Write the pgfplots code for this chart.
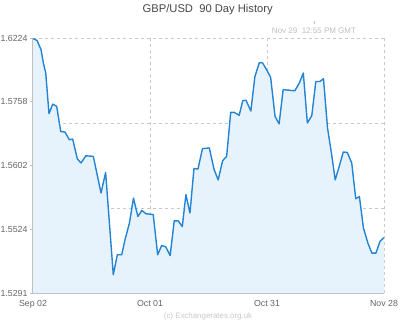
\documentclass[border=0pt]{standalone}
\usepackage{fontspec}
\setmainfont{Liberation Sans}
\usepackage{pgfplots}
\pgfplotsset{compat=1.18}
\usetikzlibrary{calc}
\definecolor{linec}{RGB}{36,132,212}
\definecolor{fillc}{RGB}{230,242,252}
\definecolor{gridc}{RGB}{200,200,200}
\definecolor{axisc}{RGB}{190,190,190}
\definecolor{labc}{RGB}{100,100,100}
\definecolor{titc}{RGB}{70,70,70}
\definecolor{datec}{RGB}{190,190,190}
\definecolor{copc}{RGB}{200,200,200}
\begin{document}
\begin{tikzpicture}[x=1pt,y=1pt]
\begin{axis}[
  name=ax,
  at={(0,0)}, anchor=south west,
  scale only axis, width=351pt, height=255pt,
  xmin=0, xmax=87, ymin=1.5291, ymax=1.6224,
  axis x line*=bottom, axis y line*=left,
  axis line style={axisc, line width=1.3pt, -},
  xtick={0,29,58,87},
  xticklabels={Sep 02,Oct 01,Oct 31,Nov 28},
  ytick={1.5291,1.552425,1.57575,1.599075,1.6224},
  yticklabels={1.5291,1.5524,1.5602,1.5758,1.6224},
  xmajorgrids,
  major grid style={gridc, dash pattern=on 3pt off 3pt, line width=0.8pt},
  extra y ticks={1.5602,1.5913,1.6224},
  extra y tick labels={},
  extra y tick style={grid=major, major tick length=0pt},
  extra x ticks={43.4},
  extra x tick labels={},
  extra x tick style={grid=none, major tick length=3pt, tick style={axisc, line width=1pt}},
  x tick style={draw=none},
  y tick style={axisc, line width=0.8pt},
  tick align=outside,
  major tick length=3pt,
  /pgf/number format/assume math mode=true,
  tick label style={font=\fontsize{8.8}{10}\selectfont, text=labc},
  xticklabel style={yshift=-1pt},
  yticklabel style={xshift=1pt},
]
\addplot[draw=none, fill=fillc] coordinates {
(0,1.6222)(1,1.6215)(2,1.6181)(2.55,1.6134)(3.15,1.6097)(3.97,1.5947)(4.88,1.5982)(5.87,1.5974)(6.87,1.5882)(7.93,1.5880)(9.0,1.5852)(9.84,1.5854)(10.98,1.5782)(11.9,1.5767)(13.1,1.5793)(14.95,1.5791)(16.86,1.5657)(18.0,1.5732)(19.9,1.5358)(20.9,1.5431)(22.0,1.5431)(22.8,1.5486)(23.9,1.5547)(24.9,1.5638)(26.0,1.5571)(27.0,1.5593)(28.0,1.5581)(29.8,1.5578)(30.9,1.5431)(31.9,1.5465)(32.9,1.5460)(34.0,1.5428)(35.0,1.5555)(36.0,1.5555)(37.0,1.5534)(37.9,1.5651)(38.9,1.5584)(39.9,1.5746)(40.9,1.5745)(42.0,1.5819)(43.7,1.5822)(44.9,1.5742)(45.9,1.5705)(47.0,1.5775)(48.0,1.5791)(49.0,1.5952)(49.9,1.5952)(51.1,1.5941)(52.0,1.5995)(52.8,1.5996)(54.0,1.5957)(55.0,1.6083)(56.1,1.6134)(56.9,1.6133)(57.9,1.6108)(58.9,1.6080)(60.0,1.5937)(61.0,1.5910)(62.0,1.6035)(64.1,1.6032)(64.9,1.6031)(66.0,1.6059)(67.0,1.6096)(68.0,1.5913)(69.1,1.5940)(70.1,1.6065)(71.1,1.6065)(72.0,1.6075)(73.0,1.5895)(74.0,1.5800)(74.9,1.5705)(75.9,1.5754)(76.9,1.5807)(77.9,1.5805)(79.0,1.5767)(80.0,1.5636)(80.9,1.5644)(81.9,1.5529)(83.0,1.5474)(84.0,1.5437)(85.0,1.5437)(86.0,1.5480)(87,1.5494)
} \closedcycle;
\addplot[linec, line width=1.4pt, line join=round] coordinates {
(0,1.6222)(1,1.6215)(2,1.6181)(2.55,1.6134)(3.15,1.6097)(3.97,1.5947)(4.88,1.5982)(5.87,1.5974)(6.87,1.5882)(7.93,1.5880)(9.0,1.5852)(9.84,1.5854)(10.98,1.5782)(11.9,1.5767)(13.1,1.5793)(14.95,1.5791)(16.86,1.5657)(18.0,1.5732)(19.9,1.5358)(20.9,1.5431)(22.0,1.5431)(22.8,1.5486)(23.9,1.5547)(24.9,1.5638)(26.0,1.5571)(27.0,1.5593)(28.0,1.5581)(29.8,1.5578)(30.9,1.5431)(31.9,1.5465)(32.9,1.5460)(34.0,1.5428)(35.0,1.5555)(36.0,1.5555)(37.0,1.5534)(37.9,1.5651)(38.9,1.5584)(39.9,1.5746)(40.9,1.5745)(42.0,1.5819)(43.7,1.5822)(44.9,1.5742)(45.9,1.5705)(47.0,1.5775)(48.0,1.5791)(49.0,1.5952)(49.9,1.5952)(51.1,1.5941)(52.0,1.5995)(52.8,1.5996)(54.0,1.5957)(55.0,1.6083)(56.1,1.6134)(56.9,1.6133)(57.9,1.6108)(58.9,1.6080)(60.0,1.5937)(61.0,1.5910)(62.0,1.6035)(64.1,1.6032)(64.9,1.6031)(66.0,1.6059)(67.0,1.6096)(68.0,1.5913)(69.1,1.5940)(70.1,1.6065)(71.1,1.6065)(72.0,1.6075)(73.0,1.5895)(74.0,1.5800)(74.9,1.5705)(75.9,1.5754)(76.9,1.5807)(77.9,1.5805)(79.0,1.5767)(80.0,1.5636)(80.9,1.5644)(81.9,1.5529)(83.0,1.5474)(84.0,1.5437)(85.0,1.5437)(86.0,1.5480)(87,1.5494)
};
\end{axis}
\node[font=\fontsize{11.2}{13}\selectfont, text=titc] at ($(ax.north west)+(174.7pt,28pt)$) {GBP/USD\ \ 90 Day History};
\node[font=\fontsize{8}{10}\selectfont, text=datec] at ($(ax.north west)+(281pt,7pt)$) {Nov 29\ \ 12:55 PM GMT};
\draw[datec, line width=0.8pt] ($(ax.north west)+(281pt,14pt)$) -- ++(0,3pt);
\node[font=\fontsize{7.9}{10}\selectfont, text=copc] at ($(ax.south west)+(175pt,-23.5pt)$) {(c) Exchangerates.org.uk};
\pgfresetboundingbox
\useasboundingbox ($(ax.south west)+(-33pt,-31pt)$) rectangle ($(ax.north east)+(16pt,38pt)$);
\end{tikzpicture}
\end{document}
